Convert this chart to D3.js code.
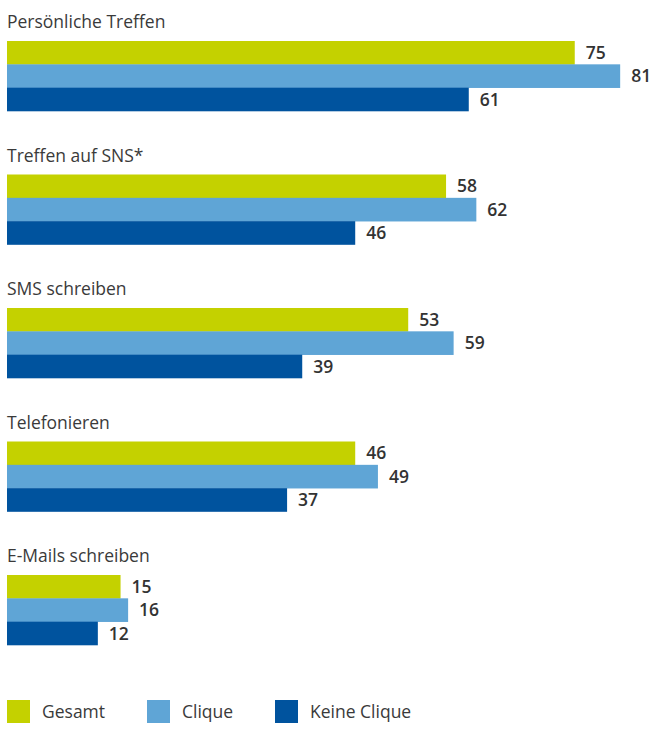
<!DOCTYPE html>
<meta charset="utf-8">
<script src="https://d3js.org/d3.v7.min.js"></script>
<style>
  body { margin: 0; background: #fff; }
  .cat { fill: #3a3a3a; font-family: "Open Sans", sans-serif; font-size: 17.5px; }
  .val { fill: #333; font-family: "Open Sans", sans-serif; font-size: 17.5px; font-weight: 600; }
  .leg { fill: #3a3a3a; font-family: "Open Sans", sans-serif; font-size: 17.5px; }
</style>
<div id="chart"></div>
<script>
const categories = ["Persönliche Treffen", "Treffen auf SNS*", "SMS schreiben", "Telefonieren", "E-Mails schreiben"];
const seriesNames = ["Gesamt", "Clique", "Keine Clique"];
const gesamt = [75, 58, 53, 46, 15];
const clique = [81, 62, 59, 49, 16];
const keineClique = [61, 46, 39, 37, 12];
const colors = ["#c4d100", "#5fa5d6", "#00539e"];

const W = 651, H = 729;
const seriesValues = [gesamt, clique, keineClique];

const svg = d3.select("#chart").append("svg")
    .attr("width", W)
    .attr("height", H);

// x scale: 0 at the left edge of the bars
const x = d3.scaleLinear().domain([0, 100]).range([7, 764]);

// one band per category group
const y = d3.scaleBand().domain(categories).range([41, 41 + 5 * 133.5]);
// bars inside each group
const yInner = d3.scaleBand().domain(seriesNames).range([0, 70]);

const groups = svg.selectAll("g.group")
    .data(categories)
    .enter().append("g")
    .attr("class", "group")
    .attr("transform", d => "translate(0," + y(d) + ")");

groups.append("text")
    .attr("class", "cat")
    .attr("x", 7)
    .attr("y", -13)
    .text(d => d);

groups.each(function(cat, i) {
  const g = d3.select(this);
  seriesNames.forEach((s, j) => {
    const v = seriesValues[j][i];
    g.append("rect")
        .attr("x", x(0))
        .attr("y", yInner(s))
        .attr("width", x(v) - x(0))
        .attr("height", yInner.bandwidth() + 0.3)
        .attr("fill", colors[j]);
    g.append("text")
        .attr("class", "val")
        .attr("x", x(v) + 11)
        .attr("y", yInner(s) + yInner.bandwidth() / 2)
        .attr("dy", "0.36em")
        .text(v);
  });
});

// legend
const legX = [7, 147, 275];
const leg = svg.selectAll("g.leg")
    .data(seriesNames)
    .enter().append("g")
    .attr("transform", (d, i) => "translate(" + legX[i] + ",700)");
leg.append("rect")
    .attr("width", 23)
    .attr("height", 23)
    .attr("fill", (d, i) => colors[i]);
leg.append("text")
    .attr("class", "leg")
    .attr("x", 35)
    .attr("y", 18)
    .text(d => d);
</script>
